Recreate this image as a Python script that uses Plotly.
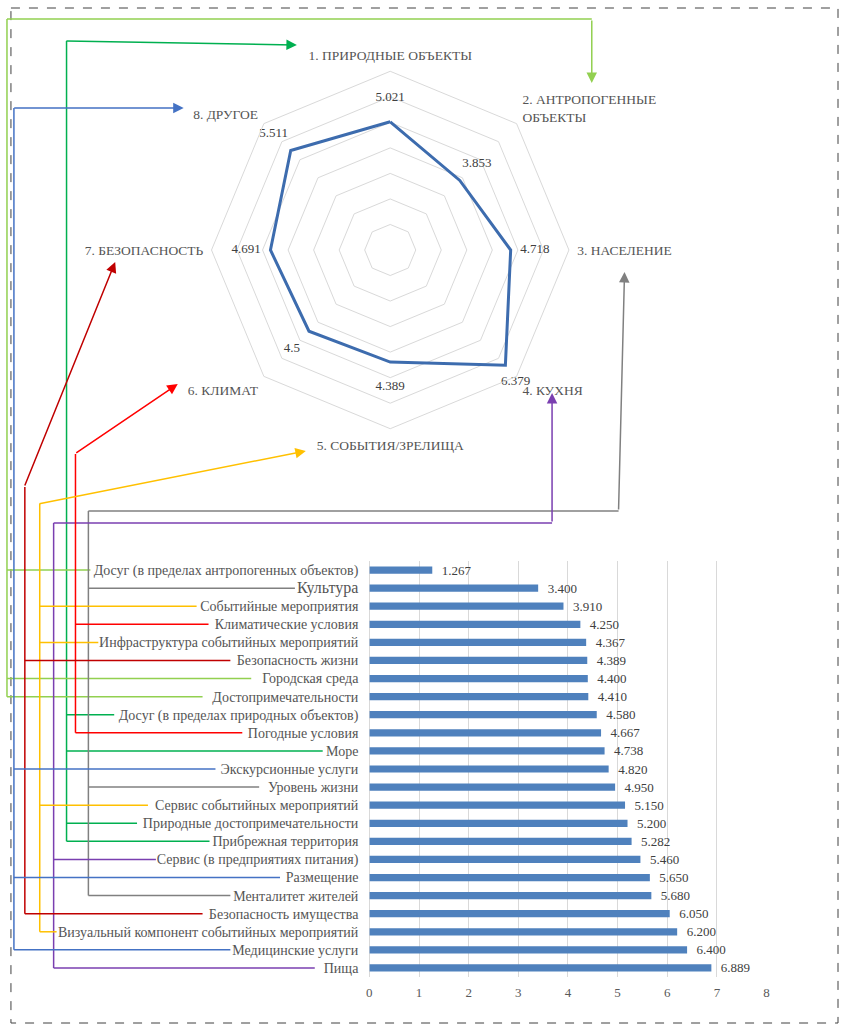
import plotly.graph_objects as go

W, H = 842, 1026

# ---------------- data ----------------
radar_categories = ["1. ПРИРОДНЫЕ ОБЪЕКТЫ", "2. АНТРОПОГЕННЫЕ<br>ОБЪЕКТЫ", "3. НАСЕЛЕНИЕ",
                    "4. КУХНЯ", "5. СОБЫТИЯ/ЗРЕЛИЩА", "6. КЛИМАТ", "7. БЕЗОПАСНОСТЬ", "8. ДРУГОЕ"]
radar_values = [5.021, 3.853, 4.718, 6.379, 4.389, 4.5, 4.691, 5.511]
radar_value_labels = ["5.021", "3.853", "4.718", "6.379", "4.389", "4.5", "4.691", "5.511"]

bar_categories = [
    "Досуг (в пределах антропогенных объектов)",
    "Культура",
    "Событийные мероприятия",
    "Климатические условия",
    "Инфраструктура событийных мероприятий",
    "Безопасность жизни",
    "Городская среда",
    "Достопримечательности",
    "Досуг (в пределах природных объектов)",
    "Погодные условия",
    "Море",
    "Экскурсионные услуги",
    "Уровень жизни",
    "Сервис событийных мероприятий",
    "Природные достопримечательности",
    "Прибрежная территория",
    "Сервис (в предприятиях питания)",
    "Размещение",
    "Менталитет жителей",
    "Безопасность имущества",
    "Визуальный компонент событийных мероприятий",
    "Медицинские услуги",
    "Пища",
]
bar_values = [1.267, 3.400, 3.910, 4.250, 4.367, 4.389, 4.400, 4.410, 4.580, 4.667, 4.738,
              4.820, 4.950, 5.150, 5.200, 5.282, 5.460, 5.650, 5.680, 6.050, 6.200, 6.400, 6.889]
# which radar category (1..8) each bar factor belongs to
bar_groups = [2, 3, 5, 6, 5, 7, 2, 2, 1, 6, 1, 8, 3, 5, 1, 1, 4, 8, 3, 7, 5, 8, 4]

# ---------------- layout geometry (pixels) ----------------
def PX(x):
    return x / W

def PY(y):
    return 1 - y / H

BAR_LEFT, BAR_RIGHT, BAR_TOP, BAR_BOTTOM = 369, 769, 561, 977
R_CX, R_CY, R_R = 390, 250, 180
R_MAX = 7
n_cat = len(bar_categories)

def cat_y(i):
    return BAR_TOP + (i + 0.5) * (BAR_BOTTOM - BAR_TOP) / n_cat

# left edge (px) where each connector line meets its bar label
label_left = [89, 295, 196, 208, 97, 230, 251, 202, 113, 242, 323, 215, 259, 147, 136, 209,
              155, 280, 230, 202, 55, 230, 315]

connectors = {
    1: dict(color="#00b050", x=64, path=[(64, 41)], tip=(296, 45)),
    2: dict(color="#92d050", x=4, path=[(4, 19), (593, 19)], tip=(593, 83)),
    3: dict(color="#808080", x=86, path=[(86, 511), (620, 511)], tip=(626, 272)),
    4: dict(color="#7a3fb0", x=51, path=[(51, 523), (553, 523)], tip=(553, 393)),
    5: dict(color="#ffc000", x=37, path=[(37, 504)], tip=(305, 451)),
    6: dict(color="#ff0000", x=73, path=[(73, 454)], tip=(176, 384)),
    7: dict(color="#c00000", x=22, path=[(22, 487)], tip=(113, 262)),
    8: dict(color="#4472c4", x=11, path=[(11, 108)], tip=(182, 108)),
}

SERIF = "Liberation Serif"
LABEL_OFFSET = 0.95

fig = go.Figure()

# radar
fig.add_trace(go.Scatterpolar(
    r=radar_values + radar_values[:1],
    theta=radar_categories + radar_categories[:1],
    mode="lines",
    line=dict(color="#3d6cae", width=3),
    showlegend=False, hoverinfo="skip",
))
label_r = [min(v + LABEL_OFFSET, R_MAX - 0.05) for v in radar_values]
label_pos = ["middle center" if v + LABEL_OFFSET < R_MAX else "bottom center" for v in radar_values]
fig.add_trace(go.Scatterpolar(
    r=label_r,
    theta=radar_categories,
    mode="text",
    text=radar_value_labels,
    textposition=label_pos,
    textfont=dict(family=SERIF, size=13, color="#404040"),
    cliponaxis=False,
    showlegend=False, hoverinfo="skip",
))

# bars
fig.add_trace(go.Bar(
    x=bar_values,
    y=bar_categories,
    orientation="h",
    marker=dict(color="#4f81bd", line=dict(width=0)),
    text=[f"{v:.3f}" for v in bar_values],
    texttemplate="\u00a0\u00a0%{text}",
    textposition="outside",
    constraintext="none",
    textfont=dict(family=SERIF, size=13, color="#404040"),
    cliponaxis=False,
    showlegend=False,
    xaxis="x", yaxis="y",
))

# tick labels ("Культура" is set in a larger size in the original)
big_labels = {"Культура": 16}
tick_text = [f'<span style="font-size:{big_labels[c]}px">{c}</span>' if c in big_labels else c
             for c in bar_categories]

shapes = []
annotations = []

# dashed frame
shapes.append(dict(type="rect", xref="paper", yref="paper",
                   x0=PX(8), x1=PX(841), y0=PY(8), y1=PY(1023),
                   line=dict(color="#404040", width=1, dash="dash")))

for g, c in connectors.items():
    members = [i for i, gg in enumerate(bar_groups) if gg == g]
    bottom = max(cat_y(i) for i in members)
    pts = [(c["x"], bottom)] + c["path"]
    for (x0, y0), (x1, y1) in zip(pts[:-1], pts[1:]):
        shapes.append(dict(type="line", xref="paper", yref="paper",
                           x0=PX(x0), y0=PY(y0), x1=PX(x1), y1=PY(y1),
                           line=dict(color=c["color"], width=1.5)))
    for i in members:
        shapes.append(dict(type="line", xref="paper", yref="paper",
                           x0=PX(c["x"]), y0=PY(cat_y(i)), x1=PX(label_left[i] - 1), y1=PY(cat_y(i)),
                           line=dict(color=c["color"], width=1.5)))
    tx, ty = c["tip"]
    sx, sy = c["path"][-1]
    annotations.append(dict(xref="paper", yref="paper", x=PX(tx), y=PY(ty),
                            ax=sx - tx, ay=sy - ty, axref="pixel", ayref="pixel",
                            text="", showarrow=True, arrowhead=2, arrowsize=1.4,
                            arrowwidth=1.5, arrowcolor=c["color"], standoff=0))

fig.update_layout(
    width=W, height=H,
    margin=dict(l=0, r=0, t=0, b=0),
    paper_bgcolor="white", plot_bgcolor="white",
    font=dict(family=SERIF, color="#595959"),
    showlegend=False,
    bargap=0.6,
    polar=dict(
        domain=dict(x=[PX(R_CX - R_R), PX(R_CX + R_R)], y=[PY(R_CY + R_R), PY(R_CY - R_R)]),
        bgcolor="white",
        gridshape="linear",
        radialaxis=dict(range=[0, R_MAX], dtick=1, showticklabels=False, ticks="",
                        showline=False, gridcolor="#d9d9d9", gridwidth=1),
        angularaxis=dict(rotation=90, direction="clockwise", showgrid=False,
                         showline=True, linecolor="#d9d9d9", linewidth=1,
                         ticks="outside", ticklen=5, tickcolor="rgba(0,0,0,0)",
                         tickfont=dict(family=SERIF, size=13.5, color="#555555")),
    ),
    xaxis=dict(domain=[PX(BAR_LEFT), PX(BAR_RIGHT + 0.6)], anchor="y", range=[0, 8.012], dtick=1,
               showgrid=True, gridcolor="#d9d9d9", zeroline=True, zerolinecolor="#d9d9d9",
               zerolinewidth=1, showline=False, ticks="", ticklabelstandoff=6,
               tickfont=dict(family=SERIF, size=13, color="#595959")),
    yaxis=dict(domain=[PY(BAR_BOTTOM), PY(BAR_TOP)], anchor="x", type="category",
               range=[n_cat - 0.5, -0.5], showgrid=False, showline=False, ticks="",
               tickmode="array", tickvals=bar_categories, ticktext=tick_text,
               ticklabelstandoff=10,
               tickfont=dict(family=SERIF, size=14, color="#555555")),
    shapes=shapes,
    annotations=annotations,
)

fig.write_html("out.html")
